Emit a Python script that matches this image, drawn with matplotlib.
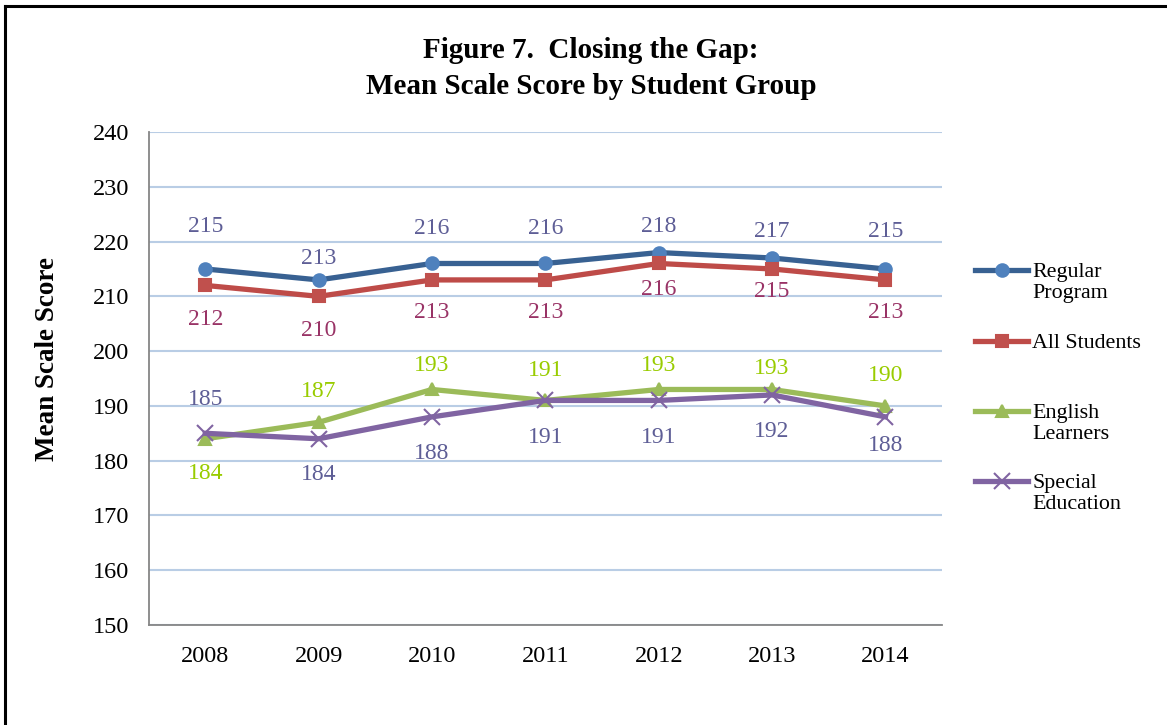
import matplotlib
matplotlib.use('Agg')
import matplotlib.pyplot as plt
from matplotlib.lines import Line2D

years = ["2008", "2009", "2010", "2011", "2012", "2013", "2014"]
regular = [215, 213, 216, 216, 218, 217, 215]
all_students = [212, 210, 213, 213, 216, 215, 213]
english = [184, 187, 193, 191, 193, 193, 190]
special = [185, 184, 188, 191, 191, 192, 188]

# label nudges (data units)
regular_off = [7.8, 4.0, 6.4, 6.4, 4.8, 4.9, 6.8]
all_off = [-6.2, -6.2, -5.9, -5.9, -4.7, -4.1, -5.9]
english_off = [-6.4, 5.7, 4.3, 5.4, 4.3, 3.9, 5.6]
special_off = [6.2, -6.6, -6.6, -6.7, -6.7, -6.6, -5.3]

plt.rcParams['font.family'] = ['Liberation Serif', 'DejaVu Serif']

fig = plt.figure(figsize=(11.67, 7.25), dpi=100)
ax = fig.add_axes([0.1273, 0.1379, 0.680, 0.680])

x = list(range(len(years)))
series = [
    ("Regular Program", regular, regular_off, "#386192", "#4F81BD", "o", "#5E5E96"),
    ("All Students", all_students, all_off, "#BE4B48", "#C0504D", "s", "#993366"),
    ("English Learners", english, english_off, "#9BBB59", "#9BBB59", "^", "#99CC00"),
    ("Special Education", special, special_off, "#8064A2", "#8064A2", "x", "#5E5E96"),
]

for name, vals, offs, lc, mc, mk, tc in series:
    ax.plot(x, vals, color=lc, lw=3.8, marker=mk, markersize=9 if mk != "x" else 12,
            markerfacecolor=mc, markeredgecolor=mc, markeredgewidth=1.5, zorder=3)
    for xi, v, o in zip(x, vals, offs):
        ax.text(xi, v + o, str(v), color=tc, fontsize=17, ha="center", va="center")

ax.set_xlim(-0.5, 6.5)
ax.set_ylim(150, 240)
ax.set_yticks(range(150, 241, 10))
ax.set_xticks(x)
ax.set_xticklabels(years)
ax.tick_params(axis="both", labelsize=17.5, length=0)
ax.tick_params(axis="y", pad=14)
ax.tick_params(axis="x", pad=15)
ax.yaxis.grid(True, color="#B9CDE5", lw=1.5)
ax.set_axisbelow(True)
for s in ["top", "right"]:
    ax.spines[s].set_visible(False)
for s in ["left", "bottom"]:
    ax.spines[s].set_color("#868686")
    ax.spines[s].set_linewidth(1.3)

ax.set_ylabel("Mean Scale Score", fontsize=19.5, fontweight="bold")
ax.yaxis.set_label_coords(-0.111, 0.54)

fig.text(0.5065, 0.906, "Figure 7.  Closing the Gap:\nMean Scale Score by Student Group",
         ha="center", va="center", fontsize=21, fontweight="bold", linespacing=1.42)

# legend drawn by hand to keep the uneven spacing
legend_y = [270, 341, 411, 481]
legend_txt = ["Regular\nProgram", "All Students", "English\nLearners", "Special\nEducation"]
for (name, vals, offs, lc, mc, mk, tc), py, lab in zip(series, legend_y, legend_txt):
    fy = 1 - py / 725
    fig.add_artist(Line2D([975 / 1167, 1028 / 1167], [fy, fy], color=lc, lw=3.8,
                          transform=fig.transFigure))
    fig.add_artist(Line2D([1001.5 / 1167], [fy], marker=mk, color=mc,
                          markersize=9 if mk != "x" else 11, markeredgewidth=1.5,
                          transform=fig.transFigure))
    fig.text(1032 / 1167, fy + 0.009, lab, fontsize=15.8, ha="left", va="top",
             linespacing=1.1)

# page frame (top and left edge visible)
fig.add_artist(Line2D([5 / 1167, 5 / 1167], [0, 1 - 6 / 725], color="black", lw=2.2,
                      transform=fig.transFigure))
fig.add_artist(Line2D([5 / 1167, 1], [1 - 6 / 725, 1 - 6 / 725], color="black", lw=2.2,
                      transform=fig.transFigure))

fig.savefig("out.png", dpi=100)
